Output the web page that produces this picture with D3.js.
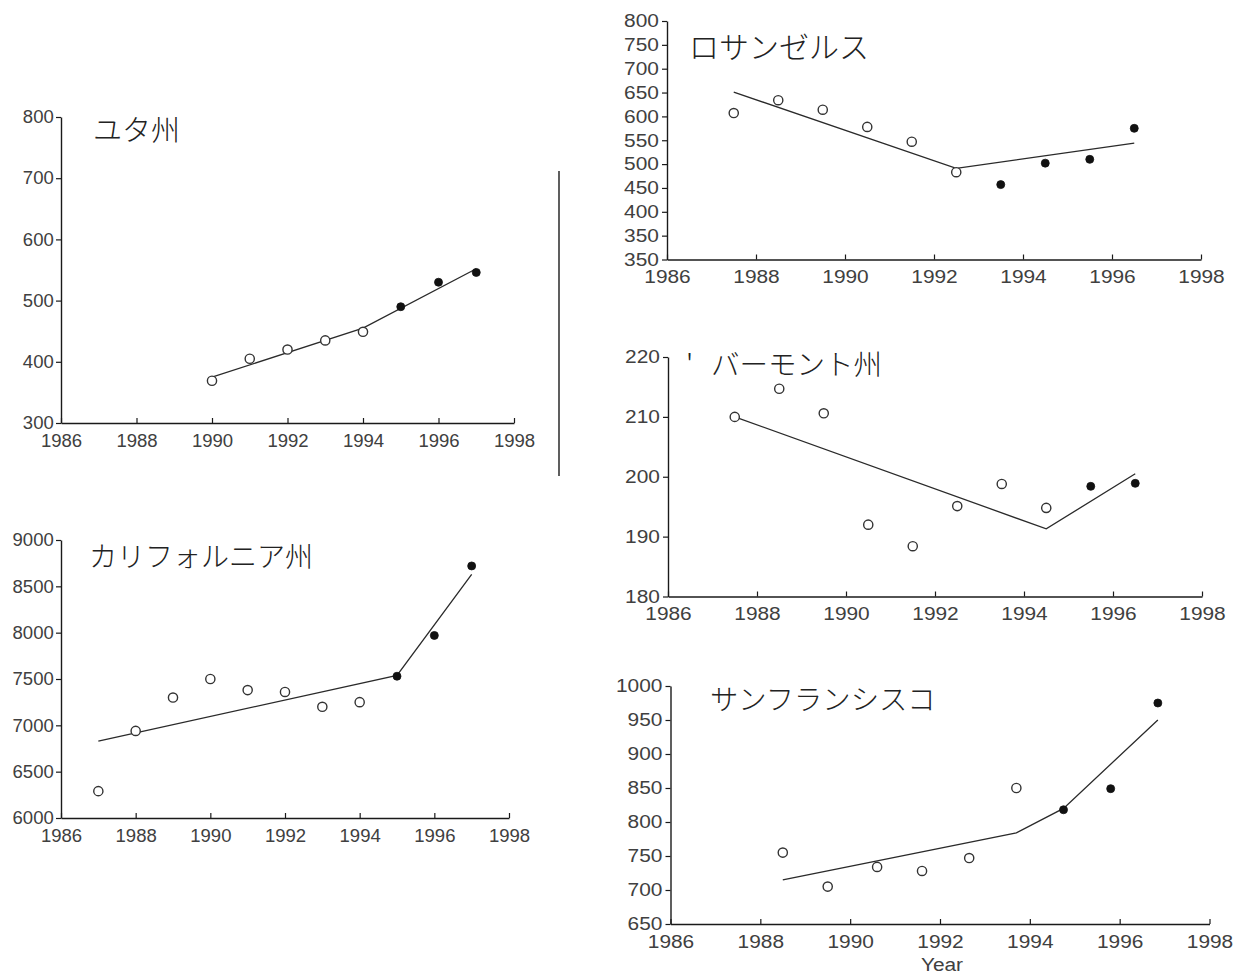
<!DOCTYPE html>
<html>
<head>
<meta charset="utf-8">
<script src="https://cdn.jsdelivr.net/npm/d3@7"></script>
<style>
  body { margin: 0; background: #fff; }
  svg { display: block; }
</style>
</head>
<body>
<svg id="chart" width="1236" height="974"></svg>
<script>
// ---- data ----
const xTickYears = [1986, 1988, 1990, 1992, 1994, 1996, 1998];

// Utah
const utahYears   = [1990, 1991, 1992, 1993, 1994, 1995, 1996, 1997];
const utahValues  = [369, 405, 420, 435, 449, 490, 530, 546];
const utahFilledFrom = 1995;
const utahTrendYears  = [1990, 1994, 1997];
const utahTrendValues = [375, 455, 552];
const utahYTicks  = [300, 400, 500, 600, 700, 800];
const utahYLabels = ["300", "400", "500", "600", "700", "800"];

// California
const caYears   = [1987, 1988, 1989, 1990, 1991, 1992, 1993, 1994, 1995, 1996, 1997];
const caValues  = [6290, 6940, 7300, 7500, 7380, 7360, 7200, 7250, 7530, 7970, 8720];
const caFilledFrom = 1995;
const caTrendYears  = [1987, 1995, 1997];
const caTrendValues = [6830, 7540, 8630];
const caYTicks  = [6000, 6500, 7000, 7500, 8000, 8500, 9000];
const caYLabels = ["6000", "6500", "7000", "7500", "8000", "8500", "9000"];

// Los Angeles
const laYears   = [1987.5, 1988.5, 1989.5, 1990.5, 1991.5, 1992.5, 1993.5, 1994.5, 1995.5, 1996.5];
const laValues  = [607, 634, 614, 578, 547, 483, 457, 502, 510, 575];
const laFilledFrom = 1993.5;
const laTrendYears  = [1987.5, 1992.5, 1996.5];
const laTrendValues = [651, 491, 544];
const laYTicks  = [300, 350, 400, 450, 500, 550, 600, 650, 700, 750, 800];
const laYLabels = ["350", "350", "400", "450", "500", "550", "600", "650", "700", "750", "800"];

// Vermont
const vtYears   = [1987.5, 1988.5, 1989.5, 1990.5, 1991.5, 1992.5, 1993.5, 1994.5, 1995.5, 1996.5];
const vtValues  = [210, 214.7, 210.6, 192, 188.4, 195.1, 198.8, 194.8, 198.4, 198.9];
const vtFilledFrom = 1995.5;
const vtTrendYears  = [1987.5, 1994.5, 1996.5];
const vtTrendValues = [210, 191.3, 200.5];
const vtYTicks  = [180, 190, 200, 210, 220];
const vtYLabels = ["180", "190", "200", "210", "220"];

// San Francisco
const sfYears   = [1988.5, 1989.5, 1990.6, 1991.6, 1992.65, 1993.7, 1994.75, 1995.8, 1996.85];
const sfValues  = [755, 705, 734, 728, 747, 850, 818, 849, 975];
const sfFilledFrom = 1994.75;
const sfTrendYears  = [1988.5, 1993.7, 1994.75, 1996.85];
const sfTrendValues = [715, 784, 820, 950];
const sfYTicks  = [650, 700, 750, 800, 850, 900, 950, 1000];
const sfYLabels = ["650", "700", "750", "800", "850", "900", "950", "1000"];

// ---- panel layout ----
const panels = [
  { title: [["ユタ州", 93]], titleY: 128, titleSize: 29,
    years: utahYears, values: utahValues, filledFrom: utahFilledFrom,
    trendYears: utahTrendYears, trendValues: utahTrendValues,
    yTicks: utahYTicks, yLabels: utahYLabels, yDomain: [300, 800],
    left: 61, right: 514, top: 117, bottom: 423, stretch: 1.03 },
  { title: [["カリフォルニア州", 89]], titleY: 555, titleSize: 28,
    years: caYears, values: caValues, filledFrom: caFilledFrom,
    trendYears: caTrendYears, trendValues: caTrendValues,
    yTicks: caYTicks, yLabels: caYLabels, yDomain: [6000, 9000],
    left: 61, right: 509, top: 540, bottom: 818, stretch: 1.03 },
  { title: [["ロサンゼルス", 689]], titleY: 45, titleSize: 30,
    years: laYears, values: laValues, filledFrom: laFilledFrom,
    trendYears: laTrendYears, trendValues: laTrendValues,
    yTicks: laYTicks, yLabels: laYLabels, yDomain: [300, 800],
    left: 667, right: 1201, top: 21, bottom: 259.5, stretch: 1.16 },
  { title: [["'", 686], ["バーモント州", 711]], titleY: 362, titleSize: 28.5,
    years: vtYears, values: vtValues, filledFrom: vtFilledFrom,
    trendYears: vtTrendYears, trendValues: vtTrendValues,
    yTicks: vtYTicks, yLabels: vtYLabels, yDomain: [180, 220],
    left: 668, right: 1202, top: 357, bottom: 596.5, stretch: 1.16 },
  { title: [["サンフランシスコ", 710]], titleY: 697, titleSize: 28.3,
    years: sfYears, values: sfValues, filledFrom: sfFilledFrom,
    trendYears: sfTrendYears, trendValues: sfTrendValues,
    yTicks: sfYTicks, yLabels: sfYLabels, yDomain: [650, 1000],
    left: 670.5, right: 1209.5, top: 686, bottom: 924, stretch: 1.16 }
];

const svg = d3.select("#chart");
const tickFont = "'Liberation Sans', Arial, sans-serif";
const titleFont = "'Noto Sans CJK JP', sans-serif";

function styleAxis(axisG, stretch) {
  axisG.attr("font-family", null).attr("font-size", null);
  axisG.select(".domain").attr("stroke", "#1a1a1a").attr("stroke-width", 1.4);
  axisG.selectAll(".tick line").attr("stroke", "#1a1a1a").attr("stroke-width", 1.2);
  axisG.selectAll(".tick text")
    .attr("font-family", tickFont)
    .attr("font-size", 18)
    .attr("fill", "#404040")
    .attr("transform", `scale(${stretch},1)`);
}

function drawPanel(p) {
  const x = d3.scaleLinear().domain([1986, 1998]).range([p.left, p.right]);
  const y = d3.scaleLinear().domain(p.yDomain).range([p.bottom, p.top]);
  const g = svg.append("g");

  const yAxis = g.append("g")
    .attr("transform", `translate(${p.left},0)`)
    .call(d3.axisLeft(y)
      .tickValues(p.yTicks)
      .tickFormat((d, i) => p.yLabels[i])
      .tickSize(5).tickSizeOuter(0).tickPadding(2));
  styleAxis(yAxis, p.stretch);

  const xAxis = g.append("g")
    .attr("transform", `translate(0,${p.bottom})`)
    .call(d3.axisBottom(x)
      .tickValues(xTickYears)
      .tickFormat(d3.format("d"))
      .tickSize(-5).tickSizeOuter(0).tickPadding(11));
  styleAxis(xAxis, p.stretch);

  // fitted trend
  const line = d3.line().x(d => x(d[0])).y(d => y(d[1]));
  g.append("path")
    .datum(p.trendYears.map((t, i) => [t, p.trendValues[i]]))
    .attr("d", line)
    .attr("fill", "none")
    .attr("stroke", "#2a2a2a")
    .attr("stroke-width", 1.3);

  // observations: open before the break, filled after
  const pts = p.years.map((t, i) => ({ t, v: p.values[i], filled: t >= p.filledFrom }));
  g.selectAll("circle.obs")
    .data(pts)
    .join("circle")
    .attr("class", "obs")
    .attr("cx", d => x(d.t))
    .attr("cy", d => y(d.v))
    .attr("r", d => d.filled ? 4 : 4.6)
    .attr("fill", d => d.filled ? "#111" : "#fff")
    .attr("stroke", d => d.filled ? "#111" : "#333")
    .attr("stroke-width", d => d.filled ? 0.8 : 1.4);

  // panel title
  const title = g.append("text")
    .attr("y", p.titleY)
    .attr("dominant-baseline", "central")
    .attr("font-family", titleFont)
    .attr("font-weight", 300)
    .attr("font-size", p.titleSize)
    .attr("fill", "#222");
  p.title.forEach(([txt, tx]) => title.append("tspan").attr("x", tx).text(txt));
}

panels.forEach(drawPanel);

// divider between the left and right columns
svg.append("line")
  .attr("x1", 559).attr("x2", 559)
  .attr("y1", 171).attr("y2", 476)
  .attr("stroke", "#1a1a1a").attr("stroke-width", 1.4);

// shared x-axis caption under the bottom-right panel
svg.append("text")
  .attr("x", 942 / 1.16).attr("y", 965)
  .attr("transform", "scale(1.16,1)")
  .attr("text-anchor", "middle")
  .attr("dominant-baseline", "central")
  .attr("font-family", tickFont)
  .attr("font-size", 18)
  .attr("fill", "#404040")
  .text("Year");
</script>
</body>
</html>
